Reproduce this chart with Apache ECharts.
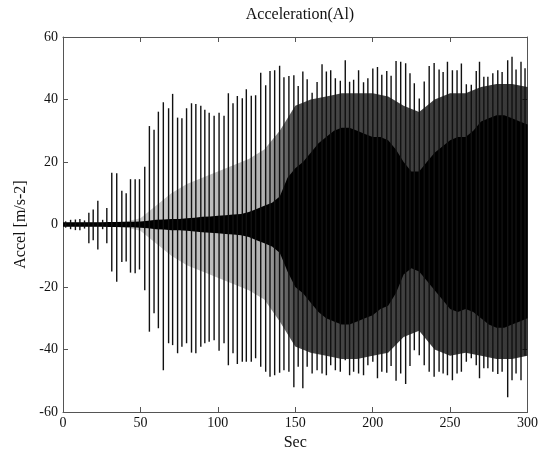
<!DOCTYPE html>
<html>
<head>
<meta charset="utf-8">
<script src="https://cdn.jsdelivr.net/npm/echarts@6/dist/echarts.min.js"></script>
<style>
  html, body { margin: 0; padding: 0; background: #fff; }
  #chart { width: 541px; height: 458px; }
</style>
</head>
<body>
<div id="chart"></div>
<script>
// Impact pulses: time (s), positive peak and negative peak (m/s^2)
const spikeTimes = [1.7, 4.9, 8.0, 10.9, 13.9, 16.7, 19.5, 22.5, 25.6, 28.3,
  31.5, 34.7, 38.0, 40.8, 43.6, 46.6, 49.4, 52.8, 55.8, 58.8,
  61.6, 64.8, 68.2, 70.8, 74.0, 76.8, 79.8, 83.0, 85.8, 89.0,
  91.6, 94.4, 97.6, 100.8, 104.0, 106.8, 109.8, 112.6, 115.8, 118.4,
  121.6, 124.4, 127.7, 130.9, 133.7, 136.7, 139.9, 142.7, 145.9, 149.1,
  151.9, 154.9, 157.7, 160.9, 164.1, 167.3, 170.1, 172.9, 175.9, 179.1,
  182.3, 185.1, 187.7, 190.9, 194.1, 196.9, 200.1, 203.1, 205.9, 209.1,
  211.9, 215.1, 218.1, 221.3, 224.1, 226.9, 230.1, 233.3, 236.5, 239.7,
  242.9, 245.5, 248.3, 251.5, 254.5, 257.3, 260.5, 263.7, 266.9, 269.0,
  271.8, 274.4, 277.6, 280.8, 283.6, 287.2, 290.0, 292.6, 295.8, 298.4];
const spikeHigh = [1.0, 1.5, 1.6, 1.8, 1.3, 3.8, 4.8, 7.6, 1.5, 5.3,
  16.6, 16.4, 10.8, 10.0, 14.5, 14.5, 14.5, 18.5, 31.5, 30.3,
  36.1, 39.1, 37.2, 41.8, 34.2, 34.0, 37.2, 38.8, 38.6, 38.0,
  36.7, 35.8, 34.8, 35.8, 34.8, 42.0, 38.8, 41.1, 40.4, 43.3,
  41.2, 41.4, 48.6, 44.6, 49.1, 49.4, 50.8, 47.1, 47.5, 47.8,
  44.3, 49.0, 46.5, 42.2, 45.6, 51.3, 49.0, 49.4, 46.8, 46.0,
  52.6, 45.7, 46.3, 49.4, 45.5, 46.8, 49.9, 50.4, 47.9, 49.1,
  47.6, 52.3, 52.1, 51.6, 48.4, 45.2, 40.3, 45.8, 50.7, 51.7,
  49.6, 48.8, 52.1, 49.4, 49.4, 51.5, 44.9, 44.7, 49.1, 52.1,
  47.3, 47.3, 48.4, 49.4, 48.8, 52.6, 53.7, 49.6, 52.1, 50.0];
const spikeLow = [-1.0, -1.5, -1.8, -1.8, -1.3, -6.0, -5.0, -8.0, -1.5, -6.0,
  -15.0, -18.3, -12.0, -11.8, -15.4, -15.6, -14.4, -21.0, -34.3, -28.4,
  -33.2, -46.6, -38.0, -38.6, -41.2, -39.1, -38.0, -41.0, -41.2, -39.1,
  -38.0, -37.5, -37.0, -40.4, -38.0, -45.0, -41.2, -44.6, -43.9, -43.9,
  -43.9, -42.8, -45.5, -47.1, -48.7, -48.2, -47.4, -46.6, -47.1, -52.1,
  -45.5, -52.4, -45.5, -47.7, -46.6, -47.7, -48.2, -45.0, -46.6, -47.1,
  -43.4, -48.2, -47.1, -47.7, -48.2, -45.0, -43.9, -49.2, -47.1, -47.4,
  -45.3, -50.0, -47.7, -51.0, -45.3, -40.2, -41.8, -45.0, -47.1, -48.7,
  -47.1, -47.7, -48.2, -49.8, -47.7, -47.1, -43.9, -42.8, -45.0, -49.2,
  -46.0, -46.0, -47.1, -47.8, -47.1, -55.3, -49.8, -47.7, -49.8, -42.0];

// Dense vibration core: envelope sampled every 5 s
const coreTimes = [0, 5, 10, 15, 20, 25, 30, 35, 40, 45,
  50, 55, 60, 65, 70, 75, 80, 85, 90, 95,
  100, 105, 110, 115, 120, 125, 130, 135, 140, 145,
  150, 155, 160, 165, 170, 175, 180, 185, 190, 195,
  200, 205, 210, 215, 220, 225, 230, 235, 240, 245,
  250, 255, 260, 265, 270, 275, 280, 285, 290, 295, 300];
const coreHigh = [0.7, 0.7, 0.7, 0.7, 0.7, 0.7, 0.8, 0.8, 0.9, 0.9,
  1.0, 1.2, 1.5, 1.6, 1.8, 1.8, 2.0, 2.2, 2.5, 2.6,
  2.8, 3.0, 3.2, 3.4, 4.0, 5.0, 6.0, 7.0, 9.0, 15.0,
  18.0, 20.0, 23.0, 26.0, 28.0, 30.0, 31.0, 31.0, 30.0, 29.0,
  28.0, 28.0, 27.0, 24.0, 20.0, 17.0, 17.0, 20.0, 23.0, 25.0,
  27.0, 28.0, 28.0, 30.0, 33.0, 34.0, 35.0, 35.0, 34.0, 33.0, 32.0];
const coreLow = [-0.7, -0.7, -0.7, -0.7, -0.7, -0.7, -0.8, -0.8, -0.9, -0.9,
  -1.0, -1.2, -1.5, -1.6, -1.8, -1.8, -2.0, -2.2, -2.5, -2.6,
  -2.8, -3.0, -3.2, -3.4, -4.0, -5.0, -6.0, -7.0, -9.0, -15.0,
  -20.0, -22.0, -25.0, -28.0, -30.0, -31.0, -32.0, -32.0, -31.0, -30.0,
  -29.0, -27.0, -26.0, -22.0, -16.0, -14.0, -15.0, -18.0, -21.0, -24.0,
  -27.0, -28.0, -27.0, -28.0, -30.0, -32.0, -33.0, -33.0, -32.0, -31.0, -30.0];

// Ringing between pulses: outer envelope sampled every 10 s
const ringTimes = [0, 10, 20, 30, 40, 50, 60, 70, 80, 90, 100, 110, 120, 130, 140, 150,
  160, 170, 180, 190, 200, 210, 220, 230, 240, 250, 260, 270, 280, 290, 300];
const ringHigh = [0.7, 0.7, 0.7, 0.8, 0.9, 2, 6, 10, 13, 15, 17, 19, 21, 24, 30, 38,
  40, 41, 42, 42, 42, 41, 38, 36, 40, 42, 42, 44, 45, 45, 44];
const ringLow = [-0.7, -0.7, -0.7, -0.8, -0.9, -2, -6, -10, -13, -15, -17, -19, -21, -24, -31, -39,
  -41, -42, -43, -43, -42, -41, -36, -34, -40, -42, -41, -42, -43, -43, -42];

const xTicks = [0, 50, 100, 150, 200, 250, 300];
const yTicks = [-60, -40, -20, 0, 20, 40, 60];

const serif = "'Liberation Serif', 'DejaVu Serif', serif";
const axisGray = '#555';

function bandItem(times, high, low, fill) {
  return function (params, api) {
    const pts = [];
    for (let i = 0; i < times.length; i++) pts.push(api.coord([times[i], high[i]]));
    for (let i = times.length - 1; i >= 0; i--) pts.push(api.coord([times[i], low[i]]));
    return { type: 'polygon', shape: { points: pts }, style: { fill: fill, stroke: null } };
  };
}

// ringing shade: faint before the dense phase, dark after it
const ringFill = new echarts.graphic.LinearGradient(0, 0, 1, 0, [
  { offset: 0, color: 'rgba(0,0,0,0.15)' },
  { offset: 0.43, color: 'rgba(0,0,0,0.3)' },
  { offset: 0.5, color: 'rgba(0,0,0,0.72)' },
  { offset: 1, color: 'rgba(0,0,0,0.78)' }
]);

const chart = echarts.init(document.getElementById('chart'), null, { renderer: 'canvas' });

const baseX = {
  type: 'value', min: xTicks[0], max: xTicks[xTicks.length - 1], interval: 50,
  splitLine: { show: false },
  axisLine: { show: true, onZero: false, lineStyle: { color: axisGray, width: 1 } },
  axisTick: { show: true, inside: true, length: 5, lineStyle: { color: axisGray } }
};
const baseY = {
  type: 'value', min: yTicks[0], max: yTicks[yTicks.length - 1], interval: 20,
  splitLine: { show: false },
  axisLine: { show: true, onZero: false, lineStyle: { color: axisGray, width: 1 } },
  axisTick: { show: true, inside: true, length: 5, lineStyle: { color: axisGray } }
};

chart.setOption({
  backgroundColor: '#fff',
  animation: false,
  title: {
    text: 'Acceleration(Al)', left: 295, top: 2, textAlign: 'center',
    textStyle: { fontFamily: serif, fontSize: 16, fontWeight: 'normal', color: '#111' }
  },
  grid: { left: 63, right: 13, top: 37, bottom: 46 },
  xAxis: [
    Object.assign({}, baseX, {
      position: 'bottom', name: 'Sec', nameLocation: 'middle', nameGap: 17,
      nameTextStyle: { fontFamily: serif, fontSize: 16, color: '#111' },
      axisLabel: { margin: 4, fontFamily: serif, fontSize: 14, color: '#111' }
    }),
    Object.assign({}, baseX, { position: 'top', axisLabel: { show: false } })
  ],
  yAxis: [
    Object.assign({}, baseY, {
      position: 'left', name: 'Accel [m/s-2]', nameLocation: 'middle', nameGap: 33,
      nameTextStyle: { fontFamily: serif, fontSize: 16, color: '#111' },
      axisLabel: { margin: 5, fontFamily: serif, fontSize: 14, color: '#111' }
    }),
    Object.assign({}, baseY, { position: 'right', axisLabel: { show: false } })
  ],
  series: [
    {
      type: 'custom', name: 'ringing', xAxisIndex: 0, yAxisIndex: 0,
      data: [[0, 0]], silent: true,
      renderItem: bandItem(ringTimes, ringHigh, ringLow, ringFill)
    },
    {
      type: 'custom', name: 'core', xAxisIndex: 0, yAxisIndex: 0,
      data: [[0, 0]], silent: true,
      renderItem: bandItem(coreTimes, coreHigh, coreLow, '#000')
    },
    {
      type: 'custom', name: 'pulses', xAxisIndex: 0, yAxisIndex: 0, silent: true,
      data: spikeTimes.map((t, i) => [t, spikeLow[i], spikeHigh[i]]),
      renderItem: function (params, api) {
        const p0 = api.coord([api.value(0), api.value(1)]);
        const p1 = api.coord([api.value(0), api.value(2)]);
        return {
          type: 'line',
          shape: { x1: p0[0], y1: p0[1], x2: p1[0], y2: p1[1] },
          style: { stroke: '#111', lineWidth: 1.4 }
        };
      }
    }
  ]
});
</script>
</body>
</html>
